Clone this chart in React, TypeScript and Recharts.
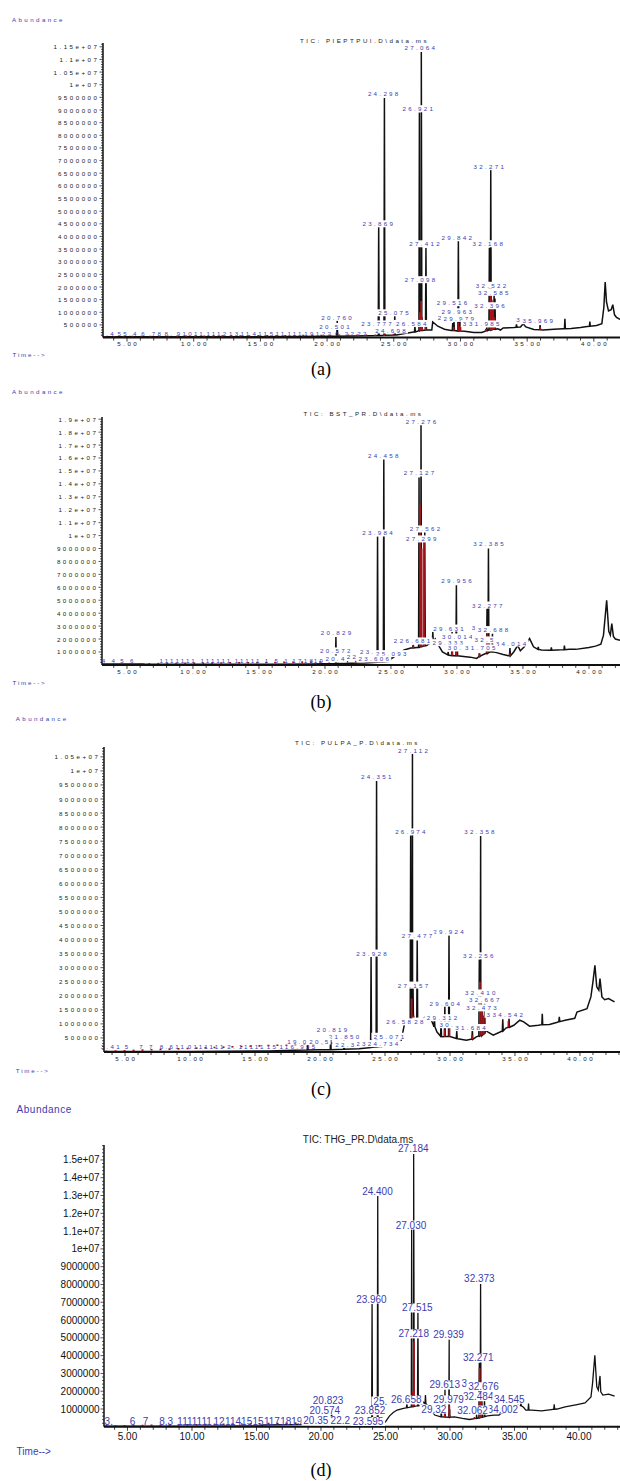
import React from "react";
import { ComposedChart, Line, Scatter, XAxis, YAxis } from "recharts";

const BLUE = "#3c3caf";
const RED = "#a8141a";
const INK = "#111";
const SANS = "'Liberation Sans', Arial, sans-serif";
const SERIF = "'Liberation Serif', 'Times New Roman', serif";

// abundances are in millions (1 = 1 000 000 counts)
const X_LABELS = [5, 10, 15, 20, 25, 30, 35, 40];
const PEAK_HALF = 0.035;

// ---------- (a) TIC: PIEPTPUI.D ----------
const A_BASE: [number, number][] = [
  [3.2, 0.03], [8, 0.03], [14, 0.03], [18, 0.04], [20, 0.05], [22, 0.06], [24, 0.08],
  [25.2, 0.1], [25.7, 0.15], [26.5, 0.22], [27.0, 0.28], [27.5, 0.3], [27.85, 0.3],
  [27.92, 0.62], [28.3, 0.45], [28.8, 0.33], [29.3, 0.28], [30.3, 0.25], [31.0, 0.2],
  [31.6, 0.2], [32.0, 0.28], [32.8, 0.35], [33.0, 0.3], [33.2, 0.38], [34.0, 0.4],
  [34.5, 0.42], [34.7, 0.55], [34.9, 0.42], [35.5, 0.32], [36.2, 0.3], [37.0, 0.33],
  [37.7, 0.35], [38.3, 0.36], [39.0, 0.4], [39.5, 0.44], [40.2, 0.48], [40.6, 0.55],
  [40.75, 1.2], [40.85, 2.2], [40.95, 1.4], [41.1, 1.05], [41.3, 1.1], [41.42, 1.3],
  [41.55, 0.9], [41.7, 0.8], [41.96, 0.72],
];
// [time, apex, foot]
const A_PEAKS: [number, number, number][] = [
  [20.76, 0.67, 0.05], [23.869, 4.39, 0.08], [24.298, 9.47, 0.09], [25.075, 0.89, 0.1],
  [26.584, 0.45, 0.22], [26.921, 8.9, 0.27], [27.064, 11.29, 0.28], [27.098, 2.08, 0.28],
  [27.412, 3.54, 0.3], [29.42, 0.58, 0.28], [29.516, 0.62, 0.28], [29.842, 3.83, 0.26],
  [29.979, 0.75, 0.26], [31.985, 0.42, 0.27], [32.168, 3.55, 0.3], [32.271, 6.63, 0.3],
  [32.396, 1.1, 0.32], [32.52, 1.75, 0.33], [32.585, 1.55, 0.33], [34.2, 0.52, 0.41],
  [35.969, 0.5, 0.31], [37.83, 0.74, 0.35], [39.7, 0.63, 0.45],
];
// [text, time, abundance]
const A_LABELS: [string, number, number][] = [
  ["27.064", 26.95, 11.47], ["24.298", 24.2, 9.65], ["26.921", 26.8, 9.05],
  ["32.271", 32.12, 6.76], ["23.869", 23.8, 4.5], ["29.842", 29.72, 3.95],
  ["27.412", 27.3, 3.71], ["32.168", 32.05, 3.71], ["27.098", 26.97, 2.29],
  ["32.522", 32.28, 2.07], ["32.585", 32.45, 1.79], ["29.516", 29.37, 1.38],
  ["32.396", 32.18, 1.26], ["25.075", 24.98, 0.98], ["20.760", 20.7, 0.81],
  ["29.963", 29.72, 1.02], ["2", 28.42, 0.78], ["29.979", 29.87, 0.76],
  ["3", 34.32, 0.7], ["35.969", 35.8, 0.67], ["26.584", 26.3, 0.56],
  ["3", 30.3, 0.56], ["31.985", 31.78, 0.54], ["23.777", 23.7, 0.54],
  ["20.501", 20.55, 0.44], ["24.698", 24.75, 0.3],
];
const A_SMALL: [string, number][] = [
  ["3.4", 3.5], ["55.4", 5.0], ["6", 6.2], ["78", 7.2], ["8.", 8.1], ["91011", 9.7],
  ["1112", 11.7], ["1311", 13.4], ["411", 14.95], ["511", 16.25], ["111", 17.55],
  ["191", 18.85], ["22", 19.95], ["0.22", 21.3], ["22", 22.6],
];
// [time, from, to] red integration strokes
const A_RED: [number, number, number][] = [
  [26.95, 0.28, 1.0], [27.05, 0.28, 1.45], [27.12, 0.28, 0.8], [27.38, 0.3, 0.6],
  [29.5, 0.28, 0.42], [29.85, 0.26, 0.6], [29.97, 0.26, 0.45], [31.9, 0.26, 0.35],
  [32.25, 0.3, 2.15], [32.35, 0.3, 1.5], [32.45, 0.32, 1.3], [32.55, 0.33, 0.8],
  [35.97, 0.31, 0.42],
];
const A_RED_BASE: [number, number][] = [[3.3, 0.03], [25.3, 0.1]];
const A_YTICKS = [0.5, 1, 1.5, 2, 2.5, 3, 3.5, 4, 4.5, 5, 5.5, 6, 6.5, 7, 7.5, 8, 8.5, 9, 9.5, 10, 10.5, 11, 11.5];

// ---------- (b) TIC: BST_PR.D ----------
const B_BASE: [number, number][] = [
  [3.11, 0.06], [6.3, 0.06], [6.4, 0.04], [12, 0.04], [16, 0.05], [19, 0.07], [21, 0.1],
  [23, 0.15], [24.5, 0.22], [24.9, 0.28], [25.05, 0.55], [25.5, 0.8], [26.0, 1.15],
  [26.5, 1.3], [27.0, 1.35], [27.7, 1.5], [28.0, 1.7], [28.35, 2.0], [28.55, 1.6],
  [28.9, 1.0], [29.4, 0.75], [30.0, 0.7], [30.5, 0.65], [31.0, 0.6], [31.5, 0.5],
  [31.8, 0.7], [32.0, 0.8], [32.5, 1.0], [33.0, 0.95], [33.5, 0.8], [33.9, 0.7],
  [34.3, 1.0], [34.6, 1.5], [34.8, 1.1], [35.1, 1.4], [35.5, 2.03], [35.8, 1.4],
  [36.4, 1.15], [37.0, 1.13], [37.6, 1.15], [38.5, 1.2], [39.0, 1.2], [40.0, 1.35],
  [40.5, 1.45], [40.9, 1.6], [41.1, 2.3], [41.34, 5.0], [41.5, 2.6], [41.62, 2.3],
  [41.73, 3.2], [41.85, 2.2], [42.0, 2.0], [42.35, 1.9],
];
const B_PEAKS: [number, number, number][] = [
  [20.829, 2.16, 0.1], [23.984, 9.95, 0.2], [24.458, 15.88, 0.23], [25.093, 0.65, 0.55],
  [26.681, 1.55, 1.32], [27.127, 14.5, 1.36], [27.276, 18.53, 1.4], [27.299, 9.5, 1.4],
  [27.562, 10.3, 1.48], [28.17, 2.55, 1.8], [29.333, 1.0, 0.78], [29.631, 2.55, 0.72],
  [29.956, 6.16, 0.7], [30.014, 1.85, 0.7], [31.705, 0.9, 0.65], [32.277, 4.35, 0.9],
  [32.385, 9.0, 0.95], [32.52, 1.5, 1.0], [32.688, 2.4, 1.0], [34.014, 1.3, 0.7],
  [36.16, 1.4, 1.2], [37.15, 1.35, 1.13], [38.14, 1.5, 1.18],
];
const B_LABELS: [string, number, number][] = [
  ["27.276", 27.27, 18.86], ["24.458", 24.42, 16.23], ["27.127", 27.12, 14.84],
  ["27.562", 27.57, 10.51], ["23.984", 23.98, 10.2], ["27.299", 27.3, 9.74],
  ["32.385", 32.39, 9.35], ["29.956", 29.96, 6.49], ["32.277", 32.3, 4.63],
  ["3", 31.25, 2.9], ["29.631", 29.36, 2.85], ["32.688", 32.72, 2.73],
  ["20.829", 20.83, 2.47], ["30.014", 30.02, 2.16], ["2", 25.35, 1.85],
  ["26.681", 26.82, 1.85], ["32.5", 32.05, 1.93], ["29.333", 29.3, 1.72],
  ["34.014", 34.1, 1.69], ["30.", 29.8, 1.31], ["31.705", 31.76, 1.31],
  ["20.572", 20.77, 1.08], ["23.", 23.15, 1.05], ["25.093", 25.02, 0.87],
  ["22", 22.0, 0.66], ["20.4", 20.75, 0.46], ["23.606", 23.7, 0.46],
];
const B_SMALL: [string, number][] = [
  ["4 4", 3.6], ["5 6", 5.0], ["1111111", 8.8], ["111111", 11.7], ["11111", 14.1],
  ["1 5 1", 16.3], ["1718", 18.3], ["19", 19.5],
];
const B_RED: [number, number, number][] = [
  [26.7, 1.3, 1.5], [27.2, 1.4, 12.4], [27.32, 1.4, 9.0], [27.5, 1.45, 9.8],
  [29.63, 0.72, 1.0], [29.96, 0.7, 1.3], [31.7, 0.62, 0.9], [32.3, 0.9, 3.0],
  [32.45, 1.0, 2.2], [34.0, 0.7, 0.9],
];
const B_RED_BASE: [number, number][] = [[3.2, 0.05], [24.9, 0.28]];
const B_YTICKS = [1, 2, 3, 4, 5, 6, 7, 8, 9, 10, 11, 12, 13, 14, 15, 16, 17, 18, 19];

// ---------- (c) TIC: PULPA_P.D ----------
const C_BASE: [number, number][] = [
  [3.38, 0.02], [10, 0.02], [16, 0.04], [18, 0.06], [20, 0.08], [23, 0.12], [25.0, 0.24],
  [25.77, 0.36], [26.25, 0.42], [26.5, 1.0], [27.0, 1.05], [27.8, 1.13], [28.1, 1.25],
  [28.4, 1.3], [28.68, 1.01], [29.0, 0.71], [29.44, 0.54], [30.0, 0.55], [30.6, 0.47],
  [31.26, 0.42], [31.6, 0.45], [32.02, 0.54], [32.5, 0.62], [32.72, 0.95], [32.8, 0.75],
  [32.93, 0.71], [33.33, 0.6], [33.85, 0.71], [34.3, 0.85], [34.91, 0.95], [35.37, 1.13],
  [35.67, 1.07], [36.12, 0.92], [36.8, 0.95], [37.65, 0.98], [38.2, 1.05], [38.86, 1.13],
  [39.6, 1.2], [39.77, 1.42], [40.54, 1.54], [40.84, 1.96], [41.0, 2.5], [41.15, 3.08],
  [41.29, 2.32], [41.45, 2.2], [41.54, 2.61], [41.69, 1.96], [41.9, 1.86], [42.2, 1.9],
  [42.66, 1.78],
];
const C_PEAKS: [number, number, number][] = [
  [19.05, 0.25, 0.07], [20.819, 0.5, 0.08], [21.85, 0.4, 0.1], [23.928, 3.38, 0.16],
  [24.351, 9.64, 0.18], [24.734, 0.3, 0.2], [25.071, 0.35, 0.24], [26.974, 7.71, 1.05],
  [27.112, 10.62, 1.06], [27.157, 2.26, 1.06], [27.477, 3.97, 1.1], [28.8, 1.25, 0.9],
  [29.312, 1.12, 0.56], [29.604, 1.63, 0.55], [29.924, 4.15, 0.55], [30.52, 0.75, 0.48],
  [31.72, 0.8, 0.45], [32.256, 3.29, 0.57], [32.358, 7.68, 0.58], [32.41, 1.96, 0.59],
  [32.473, 1.46, 0.6], [32.667, 1.72, 0.65], [34.06, 1.16, 0.75], [34.542, 1.19, 0.88],
  [37.1, 1.36, 0.97], [38.41, 1.25, 1.08],
];
const C_LABELS: [string, number, number][] = [
  ["27.112", 27.15, 10.73], ["24.351", 24.33, 9.79], ["26.974", 26.95, 7.83],
  ["32.358", 32.26, 7.83], ["29.924", 29.89, 4.27], ["27.477", 27.46, 4.13],
  ["23.928", 23.96, 3.52], ["32.256", 32.18, 3.42], ["27.157", 27.15, 2.38],
  ["32.410", 32.32, 2.1], ["32.667", 32.63, 1.85], ["29.604", 29.59, 1.74],
  ["32.473", 32.42, 1.57], ["3", 32.95, 1.34], ["34.542", 34.45, 1.32],
  ["26.58", 26.05, 1.07], ["28", 27.6, 1.1], ["29.312", 29.38, 1.22],
  ["30.", 29.7, 0.97], ["31.684", 31.57, 0.87], ["20.819", 20.92, 0.8],
  ["21.850", 21.84, 0.55], ["25.071", 25.3, 0.56], ["24.734", 24.85, 0.3],
  ["23", 23.15, 0.3], ["22.3", 21.9, 0.27], ["19.0", 18.2, 0.39], ["20.5", 19.9, 0.39],
];
const C_SMALL: [string, number][] = [
  ["3.41", 3.85], ["5", 5.1], ["7 7", 6.6], ["8.611", 8.6], ["0111111", 11.2], ["2.", 13.15],
  ["11111", 14.7], ["15", 16.25], ["116.995", 18.25],
];
const C_RED: [number, number, number][] = [
  [27.05, 1.05, 1.9], [27.2, 1.06, 1.3], [29.6, 0.55, 0.8], [29.95, 0.55, 0.9],
  [31.7, 0.45, 0.6], [32.3, 0.58, 2.5], [32.45, 0.6, 1.6], [32.6, 0.62, 1.3], [34.5, 0.88, 1.1],
];
const C_RED_BASE: [number, number][] = [[3.5, 0.02], [26.2, 0.4]];
const C_YTICKS = [0.5, 1, 1.5, 2, 2.5, 3, 3.5, 4, 4.5, 5, 5.5, 6, 6.5, 7, 7.5, 8, 8.5, 9, 9.5, 10, 10.5];

// ---------- (d) TIC: THG_PR.D ----------
const D_BASE: [number, number][] = [
  [3.18, 0.04], [10, 0.04], [15.4, 0.05], [15.5, 0.1], [20, 0.14], [22, 0.18], [23.6, 0.22],
  [25.0, 0.28], [25.3, 0.6], [25.6, 0.8], [25.9, 0.94], [26.4, 1.03], [27.0, 1.12],
  [27.75, 1.22], [27.96, 1.38], [28.27, 1.2], [28.51, 0.94], [28.82, 0.66], [29.3, 0.56],
  [30.0, 0.53], [30.35, 0.56], [30.97, 0.47], [31.5, 0.41], [32.04, 0.47], [32.6, 0.55],
  [32.9, 0.62], [33.42, 0.66], [33.8, 0.66], [34.03, 0.79], [34.49, 0.85], [34.95, 1.03],
  [35.26, 1.22], [35.7, 1.1], [35.88, 0.94], [36.33, 0.94], [37.1, 0.9], [37.86, 0.97],
  [38.3, 1.0], [38.93, 1.12], [39.85, 1.25], [40.47, 1.34], [40.93, 1.68], [41.05, 2.43],
  [41.23, 4.02], [41.38, 2.25], [41.5, 2.06], [41.63, 2.86], [41.69, 1.97], [41.85, 1.78],
  [42.3, 1.84], [42.76, 1.72],
];
const D_PEAKS: [number, number, number][] = [
  [20.574, 0.45, 0.15], [20.823, 1.12, 0.15], [22.2, 0.35, 0.18], [23.852, 0.5, 0.23],
  [23.96, 6.9, 0.24], [24.4, 12.97, 0.26], [26.658, 1.35, 1.07], [27.03, 11.1, 1.12],
  [27.184, 15.33, 1.14], [27.218, 4.97, 1.15], [27.515, 6.41, 1.18], [28.1, 1.78, 1.3],
  [29.32, 1.2, 0.56], [29.613, 2.1, 0.55], [29.939, 4.92, 0.54], [29.979, 1.0, 0.54],
  [32.062, 0.7, 0.47], [32.271, 3.6, 0.5], [32.373, 8.03, 0.52], [32.48, 1.45, 0.53],
  [32.676, 1.7, 0.57], [34.002, 0.95, 0.78], [34.545, 1.2, 0.86], [35.5, 1.31, 1.18],
  [36.09, 1.31, 0.94], [38.08, 1.26, 0.99],
];
const D_LABELS: [string, number, number][] = [
  ["27.184", 27.16, 15.62], ["24.400", 24.38, 13.25], ["27.030", 26.98, 11.34],
  ["32.373", 32.28, 8.31], ["23.960", 23.91, 7.18], ["27.515", 27.47, 6.68],
  ["27.218", 27.19, 5.22], ["29.939", 29.89, 5.16], ["32.271", 32.19, 3.87],
  ["3", 31.1, 2.45], ["29.613", 29.59, 2.35], ["32.676", 32.6, 2.25],
  ["32.484", 32.19, 1.69], ["34.002", 34.1, 1.0], ["34.545", 34.6, 1.56],
  ["25.", 24.6, 1.45], ["26.658", 26.61, 1.51], ["29.32", 28.75, 1.0],
  ["29.979", 29.89, 1.51], ["20.823", 20.55, 1.5], ["32.062", 31.75, 0.94],
  ["20.574", 20.3, 0.93], ["23.852", 23.8, 0.9], ["20.35", 19.6, 0.33],
  ["22.2", 21.5, 0.33], ["23.595", 23.65, 0.3],
];
const D_SMALL: [string, number][] = [
  ["3.", 3.55], ["6", 5.4], ["7", 6.4], ["8.3", 8.0], ["1111111", 10.2], ["12", 12.1],
  ["1141", 13.4], ["515", 14.9], ["117", 16.2], ["1819", 17.7],
];
const D_RED: [number, number, number][] = [
  [27.1, 1.14, 2.0], [27.21, 1.15, 4.8], [29.6, 0.55, 0.8], [29.95, 0.54, 1.2],
  [31.9, 0.45, 0.55], [32.3, 0.5, 3.3], [32.42, 0.52, 1.5], [33.9, 0.7, 0.85], [34.5, 0.86, 1.0],
];
const D_RED_BASE: [number, number][] = [[3.3, 0.04], [25.0, 0.28]];
const D_YTICKS = [1, 2, 3, 4, 5, 6, 7, 8, 9, 10, 11, 12, 13, 14, 15];

const SMALL = { size: 6.2, ls: 2.3, tickLs: 2.5, charW: 5.5, boxH: 7, yGap: 3.5, tickFill: "#222", stroke: 1.5 };
const BIG = { size: 10, ls: 0, tickLs: 0, charW: 5.3, boxH: 9, yGap: 4.5, tickFill: "#111", stroke: 1.3 };

const PANELS = [
  { id: "a", top: 43, bottom: 337.6, left: 103, xDomain: [3.2, 41.96], yMax: 11.65, yTicks: A_YTICKS, yMinor: 0.1,
    base: A_BASE, peaks: A_PEAKS, labels: A_LABELS, small: A_SMALL, smallV: 0.17, red: A_RED, redBase: A_RED_BASE, big: false, xDy: 6 },
  { id: "b", top: 416.7, bottom: 664.6, left: 102, xDomain: [3.11, 42.35], yMax: 19.17, yTicks: B_YTICKS, yMinor: 0.2,
    base: B_BASE, peaks: B_PEAKS, labels: B_LABELS, small: B_SMALL, smallV: 0.33, red: B_RED, redBase: B_RED_BASE, big: false, xDy: 7 },
  { id: "c", top: 746.7, bottom: 1051.7, left: 104, xDomain: [3.38, 43.08], yMax: 10.85, yTicks: C_YTICKS, yMinor: 0.1,
    base: C_BASE, peaks: C_PEAKS, labels: C_LABELS, small: C_SMALL, smallV: 0.21, red: C_RED, redBase: C_RED_BASE, big: false, xDy: 6.6 },
  { id: "d", top: 1145, bottom: 1426.8, left: 104, xDomain: [3.18, 43.18], yMax: 15.84, yTicks: D_YTICKS, yMinor: 0.2,
    base: D_BASE, peaks: D_PEAKS, labels: D_LABELS, small: D_SMALL, smallV: 0.29, red: D_RED, redBase: D_RED_BASE, big: true, xDy: 10 },
];

const HEADERS = [
  { tag: "(a)", title: "TIC: PIEPTPUI.D\\data.ms", titleX: 364.5, titleY: 40.7, abX: 12, abY: 19, timeX: 12.6, timeY: 354, tagY: 369, big: false },
  { tag: "(b)", title: "TIC: BST_PR.D\\data.ms", titleX: 363.5, titleY: 413.7, abX: 12, abY: 391.7, timeX: 12.6, timeY: 682.7, tagY: 701.7, big: false },
  { tag: "(c)", title: "TIC: PULPA_P.D\\data.ms", titleX: 357.5, titleY: 742.7, abX: 15.8, abY: 718.3, timeX: 15.8, timeY: 1070.7, tagY: 1089, big: false },
  { tag: "(d)", title: "TIC: THG_PR.D\\data.ms", titleX: 358, titleY: 1139, abX: 16.6, abY: 1109, timeX: 16.6, timeY: 1451.7, tagY: 1470, big: true },
];

function buildTrace(base: [number, number][], peaks: [number, number, number][]) {
  const pts = base.map(([t, v]) => ({ t, v }));
  peaks.forEach(([t, top, foot]) => {
    pts.push({ t: t - PEAK_HALF, v: foot }, { t, v: top }, { t: t + PEAK_HALF, v: foot });
  });
  return pts.sort((a, b) => a.t - b.t);
}

function fmtY(m: number) {
  if (m >= 10) return `${parseFloat((m / 10).toFixed(3))}e+07`;
  return String(Math.round(m * 1e6));
}

function Panel({ c }: { c: any }) {
  const MT = 14;
  const XH = 26;
  const plotH = c.bottom - c.top;
  const axisY = MT + plotH;
  const st = c.big ? BIG : SMALL;

  const trace = buildTrace(c.base, c.peaks);
  const red = c.red.flatMap(([t, a, b]: number[]) => [{ t, v: a }, { t, v: b }, { t, v: null }]);
  const redBase = c.redBase.map(([t, v]: number[]) => ({ t, v }));
  const labels = c.labels.map(([text, t, v]: any[]) => ({ t, v, text }));
  const small = c.small.map(([text, t]: any[]) => ({ t, v: c.smallV, text }));

  const xTicks: number[] = [];
  for (let i = Math.ceil(c.xDomain[0]); i <= Math.floor(c.xDomain[1]); i++) xTicks.push(i);
  const yTicks: number[] = [];
  for (let k = 1; k * c.yMinor <= c.yMax; k++) yTicks.push(Math.round(k * c.yMinor * 1000) / 1000);

  const renderX = (p: any) => {
    const v = p.payload.value;
    const major = X_LABELS.includes(v);
    return (
      <g>
        <line x1={p.x} x2={p.x} y1={axisY} y2={axisY + (major ? 4 : 3)} stroke={INK} strokeWidth={0.8} />
        {major && (
          <text x={p.x + st.tickLs / 2} y={axisY + c.xDy} textAnchor="middle" dominantBaseline="central"
            fontSize={st.size} letterSpacing={st.tickLs} fill={st.tickFill} fontFamily={SANS}>
            {v.toFixed(2)}
          </text>
        )}
      </g>
    );
  };

  const renderY = (p: any) => {
    const v = p.payload.value;
    const major = c.yTicks.some((m: number) => Math.abs(m - v) < 1e-6);
    return (
      <g>
        <line x1={c.left - (major ? 3.5 : 2)} x2={c.left} y1={p.y} y2={p.y} stroke={INK} strokeWidth={0.7} />
        {major && (
          <text x={c.left - st.yGap} y={p.y} textAnchor="end" dominantBaseline="central"
            fontSize={st.size} letterSpacing={st.tickLs} fill={st.tickFill} fontFamily={SANS}>
            {fmtY(v)}
          </text>
        )}
      </g>
    );
  };

  const renderLabel = (p: any) => {
    const { cx, cy, payload } = p;
    const w = payload.text.length * st.charW + 2;
    return (
      <g>
        <rect x={cx - w / 2} y={cy - st.boxH / 2} width={w} height={st.boxH} fill="#fff" />
        <text x={cx + st.ls / 2} y={cy} textAnchor="middle" dominantBaseline="central"
          fontSize={st.size} letterSpacing={st.ls} fill={BLUE} fontFamily={SANS}>
          {payload.text}
        </text>
      </g>
    );
  };

  const renderSmall = (p: any) => (
    <text x={p.cx + st.ls / 2} y={p.cy} textAnchor="middle" dominantBaseline="central"
      fontSize={st.size} letterSpacing={st.ls} fill={BLUE} fontFamily={SANS}>
      {p.payload.text}
    </text>
  );

  return (
    <div style={{ position: "absolute", left: 0, top: c.top - MT }}>
      <ComposedChart width={620} height={MT + plotH + XH} margin={{ top: MT, right: 0, bottom: 0, left: 0 }}>
        <XAxis type="number" dataKey="t" domain={c.xDomain} ticks={xTicks} interval={0} height={XH}
          tickLine={false} axisLine={{ stroke: INK, strokeWidth: 2 }} tick={renderX} />
        <YAxis type="number" domain={[0, c.yMax]} ticks={yTicks} interval={0} width={c.left}
          tickLine={false} axisLine={{ stroke: INK, strokeWidth: 1.5 }} tick={renderY} />
        <Line data={trace} dataKey="v" type="linear" stroke={INK} strokeWidth={st.stroke}
          dot={false} activeDot={false} isAnimationActive={false} />
        <Line data={redBase} dataKey="v" type="linear" stroke={RED} strokeWidth={1.6} strokeDasharray="2 7"
          dot={false} activeDot={false} isAnimationActive={false} />
        <Line data={red} dataKey="v" type="linear" stroke={RED} strokeWidth={1.8} connectNulls={false}
          dot={false} activeDot={false} isAnimationActive={false} />
        <Scatter data={small} dataKey="v" shape={renderSmall} isAnimationActive={false} />
        <Scatter data={labels} dataKey="v" shape={renderLabel} isAnimationActive={false} />
      </ComposedChart>
    </div>
  );
}

export default function App() {
  return (
    <div style={{ position: "absolute", left: 0, top: 0, width: 620, height: 1481, background: "#fff", overflow: "hidden" }}>
      <svg width={620} height={1481} style={{ position: "absolute", left: 0, top: 0 }}>
        {HEADERS.map((h) => {
          const size = h.big ? 10 : 6.2;
          const ls = h.big ? 0.5 : 2.4;
          return (
            <g key={h.tag}>
              <text x={h.abX} y={h.abY} dominantBaseline="central" fontSize={size} letterSpacing={ls} fill={BLUE} fontFamily={SANS}>
                Abundance
              </text>
              <text x={h.titleX} y={h.titleY} textAnchor="middle" dominantBaseline="central" fontSize={size}
                letterSpacing={h.big ? 0 : 2.5} fill="#222" fontFamily={SANS}>
                {h.title}
              </text>
              <text x={h.timeX} y={h.timeY} dominantBaseline="central" fontSize={size} letterSpacing={h.big ? 0 : 1.8} fill={BLUE} fontFamily={SANS}>
                {"Time-->"}
              </text>
              <text x={321} y={h.tagY} textAnchor="middle" dominantBaseline="central" fontSize={18} fill="#000" fontFamily={SERIF}>
                {h.tag}
              </text>
            </g>
          );
        })}
      </svg>
      {PANELS.map((c) => (
        <Panel key={c.id} c={c} />
      ))}
    </div>
  );
}
